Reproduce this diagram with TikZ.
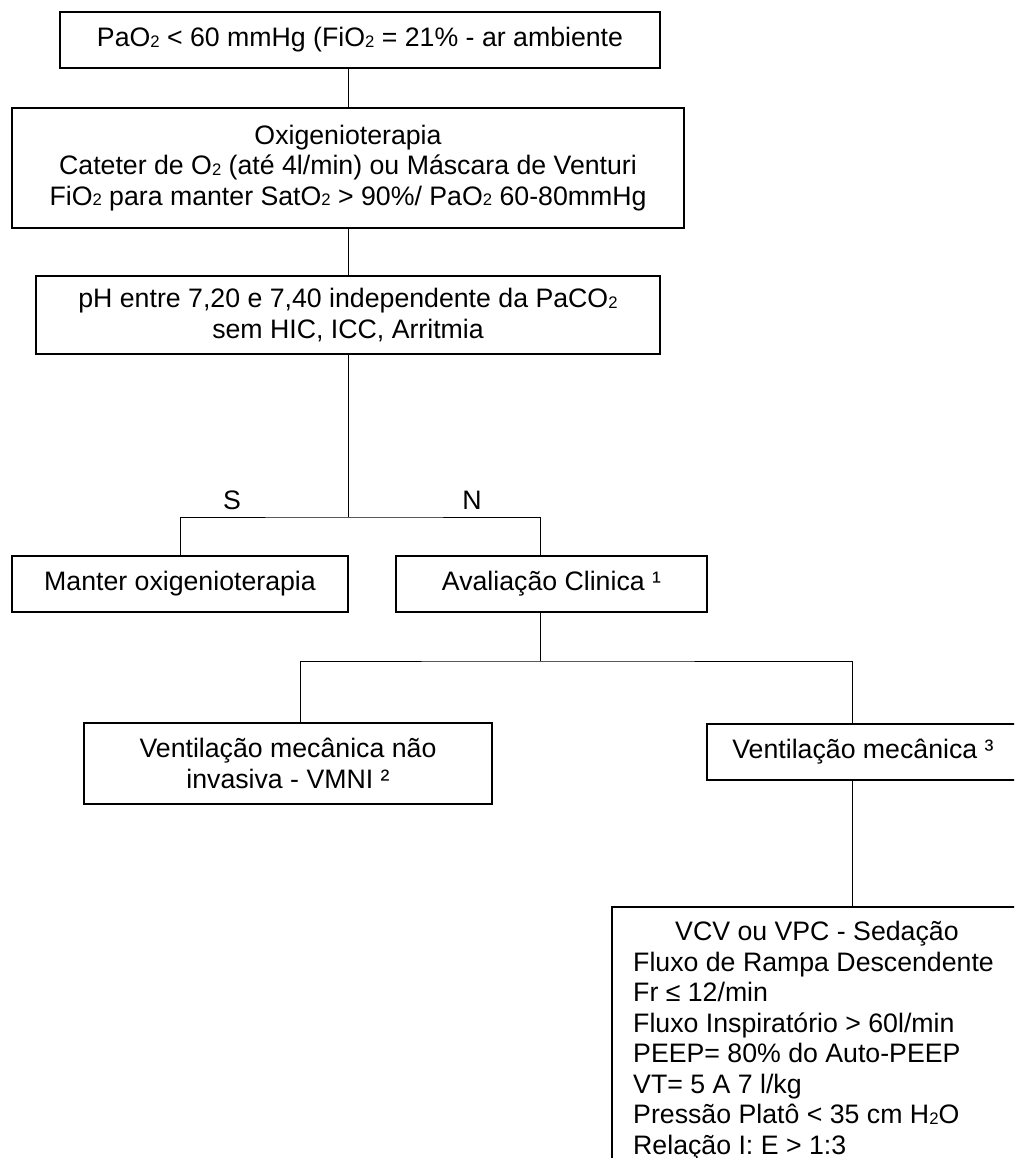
\documentclass[tikz,border=0pt]{standalone}
\usepackage{fontspec}
\setmainfont{Liberation Sans}
\newcommand\lowsub[1]{\raisebox{-0.6pt}{\fontsize{16.7pt}{16.7pt}\selectfont #1}}
\begin{document}
\begin{tikzpicture}[x=1pt,y=-1pt,
  box/.style={draw, line width=1.1pt, inner sep=0pt, align=center,
    font=\fontsize{26.7pt}{30.4pt}\selectfont},
  lbl/.style={inner sep=0pt, anchor=base, font=\fontsize{26.7pt}{30.4pt}\selectfont},
  conn/.style={line width=1pt}]
\useasboundingbox (0,0) rectangle (1014,1158);
\clip (0,0) rectangle (1014,1158);
\fill[white] (0,0) rectangle (1014,1158);

% helper x positions of connectors
\coordinate (cx) at (348,0);
\coordinate (ca) at (540,0);
\coordinate (cl) at (300,0);
\coordinate (cr) at (852,0);

\node[box, minimum width=600pt, minimum height=56pt] (b1) at (360,40)
  {PaO\lowsub{2} < 60 mmHg (FiO\lowsub{2} = 21\% - ar ambiente};
\node[box, minimum width=672pt, minimum height=120pt] (b2) at (348,168)
  {Oxigenioterapia\\Cateter de O\lowsub{2} (até 4l/min) ou Máscara de Venturi\\FiO\lowsub{2} para manter SatO\lowsub{2} > 90\%/ PaO\lowsub{2} 60-80mmHg};
\node[box, minimum width=624pt, minimum height=78pt] (b3) at (348,315)
  {pH entre 7,20 e 7,40 independente da PaCO\lowsub{2}\\sem HIC, ICC, Arritmia};
\node[box, minimum width=336pt, minimum height=56pt] (m) at (180,584)
  {Manter oxigenioterapia};
\node[box, minimum width=311pt, minimum height=56pt] (a) at (551.5,584)
  {Avaliação Clinica ¹};
\node[box, minimum width=408pt, minimum height=81pt] (v) at (288,763.5)
  {Ventilação mecânica não\\invasiva - VMNI ²};
\node[box, minimum width=312pt, minimum height=56pt] (vm) at (863,752)
  {Ventilação mecânica ³};
\node[box, minimum width=408pt, minimum height=270pt] (vb) at (816,1042) {};
\node[inner sep=0pt, anchor=north west, align=left,
  font=\fontsize{26.7pt}{30.5pt}\selectfont] (vt) at (633,921)
  {\hspace*{42pt}VCV ou VPC - Sedação\\
   Fluxo de Rampa Descendente\\
   Fr ≤ 12/min\\
   Fluxo Inspiratório > 60l/min\\
   PEEP= 80\% do Auto-PEEP\\
   VT= 5 A 7 l/kg\\
   Pressão Platô < 35 cm H\lowsub{2}O\\
   Relação I: E > 1:3};

% split points
\coordinate (s1) at (348,517);
\coordinate (s2) at (540,661);

\draw[conn] (b1.south -| cx) -- (b2.north -| cx);
\draw[conn] (b2.south -| cx) -- (b3.north -| cx);
\draw[conn] (b3.south -| cx) -- (s1);
\draw[conn] (m.north) |- (s1) -| (a.north -| ca);
\draw[conn] (a.south -| ca) -- (s2);
\draw[conn] (v.north -| cl) |- (s2) -| (vm.north -| cr);
\draw[conn] (vm.south -| cr) -- (vb.north -| cr);

\node[lbl] (ls) at (232,509) {S};
\node[lbl] (ln) at (472,509) {N};
\end{tikzpicture}
\end{document}
